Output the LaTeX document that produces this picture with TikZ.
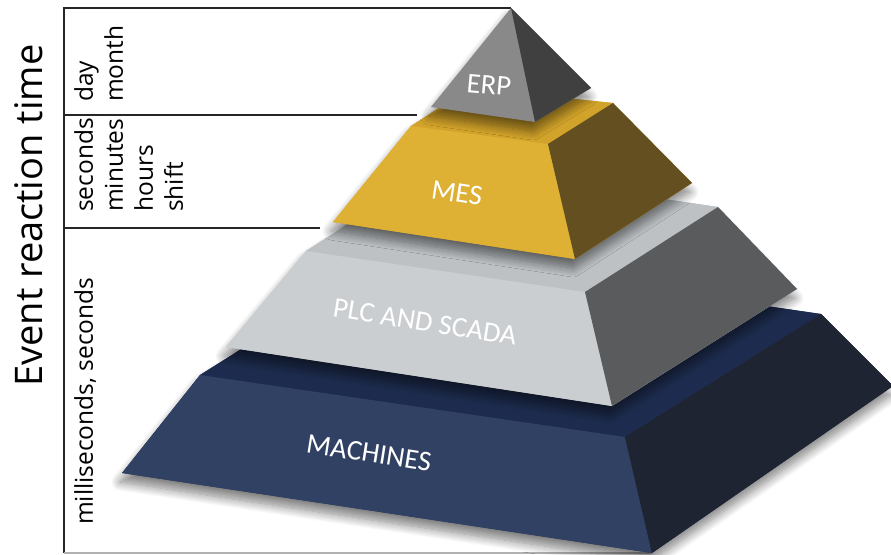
\documentclass[tikz,border=0pt]{standalone}
\usepackage{fontspec}
\setmainfont{Open Sans}
\newfontfamily\layerfont{Carlito}
\usetikzlibrary{shadows.blur}

\definecolor{erpfront}{HTML}{898989}
\definecolor{erpside}{HTML}{404040}
\definecolor{mesfront}{HTML}{DEB033}
\definecolor{mestop}{HTML}{D2A32A}
\definecolor{messide}{HTML}{634F20}
\definecolor{plcfront}{HTML}{CBCED1}
\definecolor{plctop}{HTML}{BDC1C4}
\definecolor{plcside}{HTML}{5A5B5D}
\definecolor{macfront}{HTML}{304163}
\definecolor{mactop}{HTML}{1D2C4E}
\definecolor{macside}{HTML}{1F2432}

\begin{document}
\begin{tikzpicture}[x=1pt,y=-1pt,
  layer/.style={blur shadow={shadow xshift=-2pt,shadow yshift=-9pt,shadow blur radius=9pt,shadow blur steps=12,shadow opacity=50}},
  tag/.style={text=white,inner sep=0pt,font=\layerfont\fontsize{28.5}{32}\selectfont},
  span/.style={rotate=90,anchor=north west,align=left,inner sep=0pt,font=\fontsize{24.5}{30}\selectfont},
  frameline/.style={line width=1.3pt,draw=black!85}]

\useasboundingbox (0,0) rectangle (891,554);

% corners of the layers (f = front, r = right, t = top)
\coordinate (apex) at (511,8);
\coordinate (erp-fl) at (431,107);
\coordinate (erp-fr) at (535,122);
\coordinate (erp-br) at (591,88);
%
\coordinate (mes-tl) at (411,126);
\coordinate (mes-tr) at (548,144);
\coordinate (mes-bk) at (613,103);
\coordinate (mes-bl) at (470,88);
\coordinate (mes-fl) at (333,222);
\coordinate (mes-fr) at (575,259);
\coordinate (mes-rr) at (692,183);
%
\coordinate (plc-tl) at (306,251);
\coordinate (plc-tr) at (585,292);
\coordinate (plc-bk) at (718,207);
\coordinate (plc-bl) at (439,166);
\coordinate (plc-fl) at (226,347);
\coordinate (plc-fr) at (612,406);
\coordinate (plc-rr) at (797,289);
%
\coordinate (mac-tl) at (200,375);
\coordinate (mac-tr) at (625,437);
\coordinate (mac-bk) at (821,314);
\coordinate (mac-bl) at (396,252);
\coordinate (mac-fl) at (122,473);
\coordinate (mac-fr) at (652,553);
\coordinate (mac-rr) at (893,386);

% time scale on the left
\draw[frameline] (apex) -- (64,8) -- (64,553);
\draw[frameline] (64,115) -- (417,115);
\draw[frameline] (64,228) -- (320,228);
\draw[line width=1.2pt,black!30] (64,553) -- (mac-fr);

\node[rotate=90,anchor=base west,inner sep=0pt,font=\fontsize{38}{40}\selectfont] (title) at (42,387) {Event reaction time};
\node[span] (erp-time) at (74,102) {day\\month};
\node[span] (mes-time) at (74,212) {seconds\\minutes\\hours\\shift};
\node[span] (plc-time) at (74,525) {milliseconds, seconds};

% machines
\fill[mactop,layer] (mac-fl) -- (mac-tl) -- (mac-bl) -- (mac-bk) -- (mac-rr) -- (mac-fr) -- cycle;
\fill[mactop] (mac-tl) -- (mac-tr) -- (mac-bk) -- (mac-bl) -- cycle;
\fill[macfront] (mac-tl) -- (mac-tr) -- (mac-fr) -- (mac-fl) -- cycle;
\fill[macside] (mac-tr) -- (mac-bk) -- (mac-rr) -- (mac-fr) -- cycle;
\node[tag,rotate=-9] (machines) at (369,453) {MACHINES};

% plc and scada
\fill[plctop,layer] (plc-fl) -- (plc-tl) -- (plc-bl) -- (plc-bk) -- (plc-rr) -- (plc-fr) -- cycle;
\fill[plctop] (plc-tl) -- (plc-tr) -- (plc-bk) -- (plc-bl) -- cycle;
\fill[plcfront] (plc-tl) -- (plc-tr) -- (plc-fr) -- (plc-fl) -- cycle;
\fill[plcside] (plc-tr) -- (plc-bk) -- (plc-rr) -- (plc-fr) -- cycle;
\node[tag,rotate=-9] (plc) at (425,322) {PLC AND SCADA};

% mes
\fill[mestop,layer] (mes-fl) -- (mes-tl) -- (mes-bl) -- (mes-bk) -- (mes-rr) -- (mes-fr) -- cycle;
\fill[mestop] (mes-tl) -- (mes-tr) -- (mes-bk) -- (mes-bl) -- cycle;
\fill[mesfront] (mes-tl) -- (mes-tr) -- (mes-fr) -- (mes-fl) -- cycle;
\fill[messide] (mes-tr) -- (mes-bk) -- (mes-rr) -- (mes-fr) -- cycle;
\node[tag,rotate=-9] (mes) at (457,193) {MES};

% erp
\fill[erpfront,layer] (erp-fl) -- (apex) -- (erp-br) -- (erp-fr) -- cycle;
\fill[erpside] (apex) -- (erp-br) -- (erp-fr) -- cycle;
\node[tag,rotate=-5] (erp) at (489,85) {ERP};

\end{tikzpicture}
\end{document}
